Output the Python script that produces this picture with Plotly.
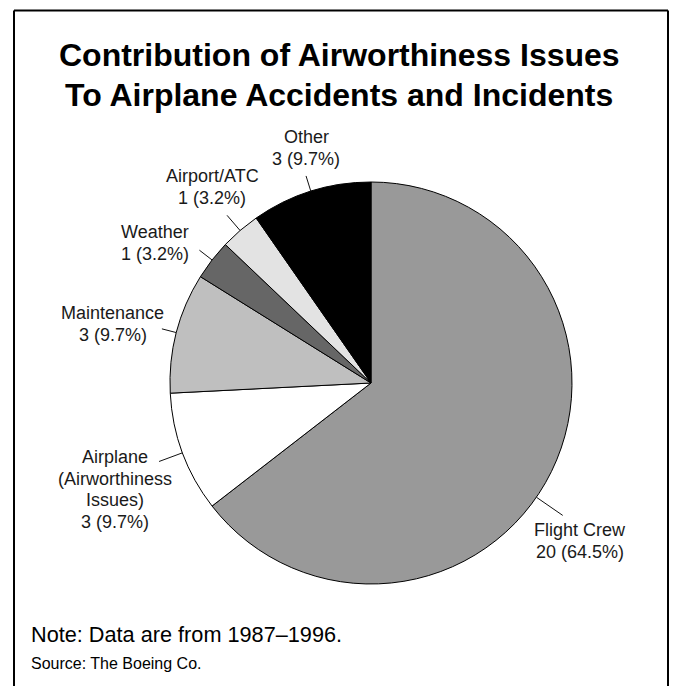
import math
import plotly.graph_objects as go

# ---- data ----
categories = ["Flight Crew", "Airplane (Airworthiness Issues)", "Maintenance", "Weather", "Airport/ATC", "Other"]
counts = [20, 3, 3, 1, 1, 3]
percents = [64.5, 9.7, 9.7, 3.2, 3.2, 9.7]
label_lines = [
    ["Flight Crew", "20 (64.5%)"],
    ["Airplane", "(Airworthiness", "Issues)", "3 (9.7%)"],
    ["Maintenance", "3 (9.7%)"],
    ["Weather", "1 (3.2%)"],
    ["Airport/ATC", "1 (3.2%)"],
    ["Other", "3 (9.7%)"],
]
colors = ["#999999", "#ffffff", "#bfbfbf", "#666666", "#e3e3e3", "#000000"]

W, H = 673, 686
CX, CY, R = 371, 383, 201
LINE_H = 21.5

# label layout: (angle offset deg, leader length px, text center x, text center y)
label_layout = [
    (8.5, 32, 580, 541),
    (0, 25, 115, 489.5),
    (0, 15, 113, 324),
    (0, 16, 155, 243),
    (0, 20, 212, 187),
    (0, 16, 306, 148),
]

def px(x):
    return x / W

def py(y):
    return 1 - y / H

fig = go.Figure(go.Pie(
    labels=categories,
    values=counts,
    sort=False,
    direction="clockwise",
    rotation=0,
    marker=dict(colors=colors, line=dict(color="#000000", width=1)),
    textinfo="none",
    hoverinfo="label+value+percent",
    domain=dict(x=[px(CX - R), px(CX + R)], y=[py(CY + R), py(CY - R)]),
    showlegend=False,
))

shapes = []
annotations = []
total = sum(counts)
cum = 0
for i, v in enumerate(counts):
    mid = (cum + v / 2) / total * 360 + label_layout[i][0]
    cum += v
    th = math.radians(mid)
    dx, dy = math.sin(th), -math.cos(th)
    x0, y0 = CX + R * dx, CY + R * dy
    L = label_layout[i][1]
    x1, y1 = x0 + L * dx, y0 + L * dy
    shapes.append(dict(type="line", xref="paper", yref="paper",
                       x0=px(x0), y0=py(y0), x1=px(x1), y1=py(y1),
                       line=dict(color="#111111", width=1)))
    lines = label_lines[i]
    n = len(lines)
    tx, ty = label_layout[i][2], label_layout[i][3]
    for k, line in enumerate(lines):
        yy = ty + (k - (n - 1) / 2) * LINE_H
        annotations.append(dict(text=line, xref="paper", yref="paper",
                                x=px(tx), y=py(yy),
                                xanchor="center", yanchor="middle", showarrow=False,
                                font=dict(family="Liberation Sans, Arial", size=18, color="#1a1a1a")))

# frame
for (a, b, c, d) in [(14, 10.5, 668, 10.5), (14, 10.5, 14, 700), (668, 10.5, 668, 700)]:
    shapes.append(dict(type="line", xref="paper", yref="paper",
                       x0=px(a), y0=py(b), x1=px(c), y1=py(d),
                       line=dict(color="#000000", width=2)))

for text, yy in [("Contribution of Airworthiness Issues", 55), ("To Airplane Accidents and Incidents", 95)]:
    annotations.append(dict(text="<b>" + text + "</b>",
                            xref="paper", yref="paper", x=px(339), y=py(yy),
                            xanchor="center", yanchor="middle", showarrow=False,
                            font=dict(family="Liberation Sans, Arial", size=32, color="#000000")))
annotations.append(dict(text="Note: Data are from 1987\u20131996.", xref="paper", yref="paper",
                        x=px(29), y=py(634), xanchor="left", yanchor="middle", showarrow=False,
                        font=dict(family="Liberation Sans, Arial", size=21.7, color="#000000")))
annotations.append(dict(text="Source: The Boeing Co.", xref="paper", yref="paper",
                        x=px(29), y=py(663), xanchor="left", yanchor="middle", showarrow=False,
                        font=dict(family="Liberation Sans, Arial", size=16, color="#000000")))

fig.update_layout(
    width=W, height=H,
    margin=dict(l=0, r=0, t=0, b=0),
    paper_bgcolor="#ffffff", plot_bgcolor="#ffffff",
    shapes=shapes, annotations=annotations,
)
fig.write_html("out.html")
